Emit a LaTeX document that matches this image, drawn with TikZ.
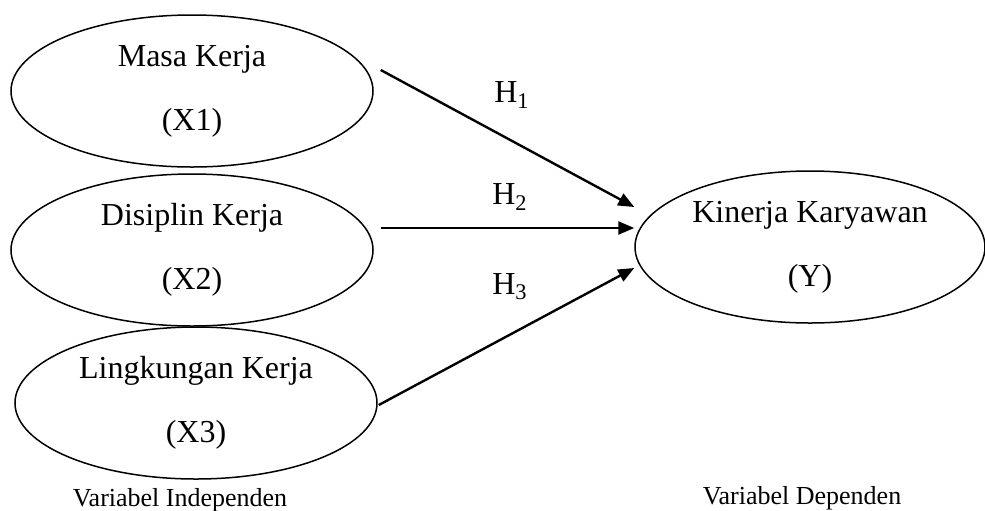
\documentclass[tikz,border=0pt]{standalone}
\usepackage{fontspec}
\setmainfont{Liberation Serif}
\usetikzlibrary{shapes.geometric,arrows.meta,calc}

\tikzset{
	var/.style = {draw, ellipse, line width=0.75pt, minimum width=181pt, minimum height=76pt, inner sep=0pt, align=center, font=\fontsize{16}{32}\selectfont},
	hyp/.style = {-{Triangle[length=8pt,width=6.5pt]}, line width=1.2pt},
	hlab/.style = {font=\fontsize{16}{19}\selectfont},
	foot/.style = {font=\fontsize{13}{16}\selectfont}
}

\begin{document}
\begin{tikzpicture}[x = 0.5pt, y = -0.5pt]
	\useasboundingbox (0,0) rectangle (985,510);
	\node[var] (x1) at (192,91) {Masa Kerja\\(X1)};
	\node[var] (x2) at (192,250) {Disiplin Kerja\\(X2)};
	\node[var] (x3) at (196,403) {Lingkungan Kerja\\(X3)};
	\node[var, minimum width=175pt] (y) at (810,247) {Kinerja Karyawan\\(Y)};
	\draw[hyp] ($(x1.east)+(7,-21)$) -- ($(y.west)+(0,-40)$);
	\draw[hyp] ($(x2.east)+(7,-22)$) -- ($(y.west)+(0,-19)$);
	\draw[hyp] ($(x3.east)+(1,2)$) -- ($(y.west)+(0,21)$);
	\node[hlab] (h1) at (512,95) {H\textsubscript{1}};
	\node[hlab] (h2) at (510,197) {H\textsubscript{2}};
	\node[hlab] (h3) at (510,287) {H\textsubscript{3}};
	\node[foot] (indep) at (180,500) {Variabel Independen};
	\node[foot] (dep) at (802,498) {Variabel Dependen};
\end{tikzpicture}
\end{document}
